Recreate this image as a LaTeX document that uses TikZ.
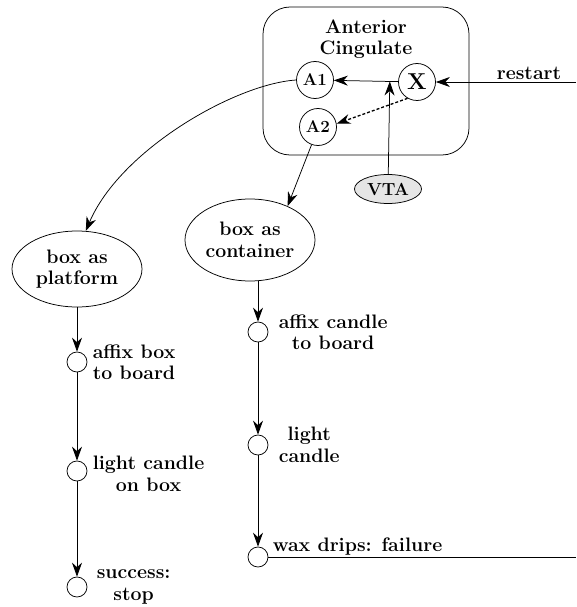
\documentclass[tikz,border=0pt]{standalone}
\usetikzlibrary{positioning,shapes.geometric,arrows.meta,calc}
\begin{document}
\begin{tikzpicture}[x=1pt,y=-1pt,line width=0.75pt,>={Stealth[length=14pt,width=10pt]},
  font=\fontsize{19.5}{21.5}\selectfont\bfseries,
  unit/.style={draw,circle,minimum size=37pt,inner sep=0pt,font=\fontsize{17}{17}\selectfont\bfseries},
  goal/.style={draw,ellipse,minimum width=130pt,inner sep=0pt,align=center},
  stepdot/.style={draw,circle,minimum size=20pt,inner sep=0pt},
  lbl/.style={inner sep=1pt,align=center},
  dashline/.style={line width=1.3pt,dash pattern=on 3pt off 2pt}]
\useasboundingbox (0,0) rectangle (576,607);
% anterior cingulate
\node[draw,rounded corners=27pt,minimum width=206pt,minimum height=148pt] (acc) at (366,81) {};
\node[lbl] (acctitle) at (366,39) {Anterior\\Cingulate};
\node[unit] (A1) at (315,80) {A1};
\node[unit,font=\fontsize{23}{23}\selectfont\bfseries] (X) at (417,82) {X};
\node[unit] (A2) at (318,127) {A2};
\node[draw,ellipse,fill=gray!20,minimum width=67pt,minimum height=29pt,inner sep=0pt,
  font=\fontsize{17.5}{17.5}\selectfont\bfseries] (vta) at (388,189) {VTA};
\coordinate (rin) at (576,82);
\node[lbl] (rlbl) at (529,73) {restart};
\draw[->] (rin) -- (X);
\draw[->] (X) -- (A1);
\draw[->] (vta) -- ($(X)!(vta.north)!(A1)$);
\draw[->,dashline] (X.240) -- (A2.10);
% goals
\node[goal,minimum height=76pt] (plat) at (77,269) {box as\\platform};
\node[goal,minimum height=82pt] (cont) at (250,240) {box as\\container};
\draw[->] (A1.west) .. controls (235,84) and (120,150) .. (plat.77);
\draw[->] (A2.250) -- (cont.42);
% platform steps
\node[stepdot] (p1) at (77,362) {};
\node[stepdot] (p2) at (77,471) {};
\node[stepdot] (p3) at (77,587) {};
\node[lbl,align=left,right=4pt of p1] (p1lbl) {affix box\\to board};
\node[lbl,right=4pt of p2,yshift=-3pt] (p2lbl) {light candle\\on box};
\node[lbl,right=8pt of p3] (p3lbl) {success:\\stop};
\draw[->] (plat) -- (p1);
\draw[->] (p1) -- (p2);
\draw[->] (p2) -- (p3);
% container steps
\node[stepdot] (c1) at (258,332) {};
\node[stepdot] (c2) at (258,445) {};
\node[stepdot] (c3) at (258,557) {};
\node[lbl,right=9pt of c1] (c1lbl) {affix candle\\to board};
\node[lbl,right=9pt of c2] (c2lbl) {light\\candle};
\node[lbl,anchor=base west] (c3lbl) at ([shift={(3,-6)}]c3.east) {wax drips: failure};
\coordinate (fend) at (576,557);
\draw[->] (c1 |- cont.south) -- (c1);
\draw[->] (c1) -- (c2);
\draw[->] (c2) -- (c3);
\draw (c3) -- (fend);
\end{tikzpicture}
\end{document}
